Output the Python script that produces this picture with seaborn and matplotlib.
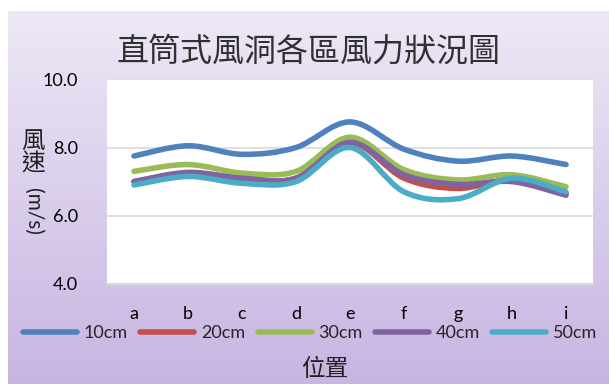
import numpy as np
import pandas as pd
import matplotlib
matplotlib.use('Agg')
import matplotlib.pyplot as plt
import seaborn as sns
from matplotlib.path import Path
from matplotlib.patches import PathPatch
from matplotlib.lines import Line2D

# ---- data ----
categories = ['a', 'b', 'c', 'd', 'e', 'f', 'g', 'h', 'i']
series_names = ['10cm', '20cm', '30cm', '40cm', '50cm']
v10cm = [7.75, 8.05, 7.80, 8.00, 8.75, 7.95, 7.60, 7.75, 7.50]
v20cm = [7.00, 7.25, 7.10, 7.10, 8.15, 7.10, 6.80, 7.05, 6.65]
v30cm = [7.30, 7.50, 7.25, 7.30, 8.30, 7.35, 7.05, 7.20, 6.85]
v40cm = [7.00, 7.27, 7.10, 7.10, 8.15, 7.20, 6.92, 7.00, 6.60]
v50cm = [6.90, 7.15, 6.95, 7.00, 8.00, 6.70, 6.50, 7.10, 6.70]
y_ticks = [4.0, 6.0, 8.0, 10.0]
y_ticklabels = ['4.0', '6.0', '8.0', '10.0']
title = '直筒式風洞各區風力狀況圖'
x_label = '位置'

colors = ['#4F81BD', '#C0504D', '#9BBB59', '#8064A2', '#4BACC6']
series_values = [v10cm, v20cm, v30cm, v40cm, v50cm]

df = pd.DataFrame({
    'pos': categories * len(series_names),
    'val': sum(series_values, []),
    'series': [s for s in series_names for _ in categories],
})

sns.set_theme(style='white')
plt.rcParams['font.family'] = ['Lato', 'Noto Sans CJK TC', 'DejaVu Sans']

W, H = 609, 384
fig = plt.figure(figsize=(W / 100, H / 100), dpi=100)
fig.patch.set_facecolor('white')

# gradient background
bg = fig.add_axes([8 / W, 0, 1 - 8 / W, 373 / H])
bg.axis('off')
grad = np.linspace(0, 1, 256)[:, None, None]
top = np.array([238, 232, 246]) / 255
bot = np.array([199, 181, 226]) / 255
img = top + (bot - top) * grad
bg.imshow(img, aspect='auto', extent=[0, 1, 0, 1], zorder=0)

ax = fig.add_axes([107 / W, (H - 283.9) / H, (593 - 107) / W, (283.9 - 79.3) / H])
ax.set_facecolor('white')
sns.lineplot(data=df, x='pos', y='val', hue='series', palette=colors,
             ax=ax, legend=False, sort=False)


def smooth_path(x, y):
    P = np.column_stack([x, y]).astype(float)
    n = len(P)
    verts = [P[0]]
    codes = [Path.MOVETO]
    for i in range(n - 1):
        p0 = P[i - 1] if i > 0 else P[i]
        p3 = P[i + 2] if i + 2 < n else P[i + 1]
        c1 = P[i] + (P[i + 1] - p0) / 6
        c2 = P[i + 1] - (p3 - P[i]) / 6
        verts += [c1, c2, P[i + 1]]
        codes += [Path.CURVE4] * 3
    return Path(verts, codes)


lines = list(ax.get_lines())
for k, ln in enumerate(lines):
    xd, yd = ln.get_xdata(), ln.get_ydata()
    col = ln.get_color()
    ln.remove()
    patch = PathPatch(smooth_path(xd, yd), facecolor='none', edgecolor=col,
                      lw=4.0, capstyle='round', joinstyle='round', zorder=3 + k)
    ax.add_patch(patch)

ax.set_xlim(-0.5, len(categories) - 0.5)
ax.set_ylim(4, 10)
ax.set_xlabel('')
ax.set_ylabel('')
ax.set_yticks(y_ticks)
ax.set_yticklabels(y_ticklabels)
ax.set_xticks(range(len(categories)))
ax.set_xticklabels(categories)
ax.set_xticks(np.arange(-0.5, len(categories), 1), minor=True)
ax.yaxis.grid(True, color='#D9D9D9', lw=1.2)
ax.set_axisbelow(True)
for s in ['left', 'right', 'top']:
    ax.spines[s].set_visible(False)
ax.spines['bottom'].set_color('#D9D9D9')
ax.spines['bottom'].set_linewidth(1.5)
ax.tick_params(axis='x', which='major', length=0, pad=16, labelsize=13, labelcolor='black')
ax.tick_params(axis='x', which='minor', length=4, width=1.5, color='#D9D9D9', direction='out')
ax.tick_params(axis='y', length=0, pad=21, labelsize=13, labelcolor='black')

# titles and labels
fig.text(309 / W, 1 - 52 / H, title, ha='center', va='center', fontsize=23,
         family=['Noto Sans CJK TC'], color='#303030')
fig.text(325 / W, 1 - 369 / H, x_label, ha='center', va='center', fontsize=17,
         family=['Noto Sans CJK TC'], color='#202020')
fig.text(33 / W, 1 - 141 / H, '風', ha='center', va='center', fontsize=17,
         family=['Noto Sans CJK TC'], color='#202020')
fig.text(33 / W, 1 - 164 / H, '速', ha='center', va='center', fontsize=17,
         family=['Noto Sans CJK TC'], color='#202020')
fig.text(33 / W, 1 - 211 / H, '(m/s)', ha='center', va='center', fontsize=15,
         rotation=-90, color='#202020')

handles = [Line2D([0], [0], color=c, lw=4.0, solid_capstyle='round') for c in colors]
fig.legend(handles, series_names, ncol=5, loc='center',
           bbox_to_anchor=(310 / W, 1 - 333 / H), frameon=False, fontsize=13,
           handlelength=3.0, handletextpad=0.35, columnspacing=0.7,
           borderpad=0, borderaxespad=0)

fig.savefig('out.png', dpi=100)
